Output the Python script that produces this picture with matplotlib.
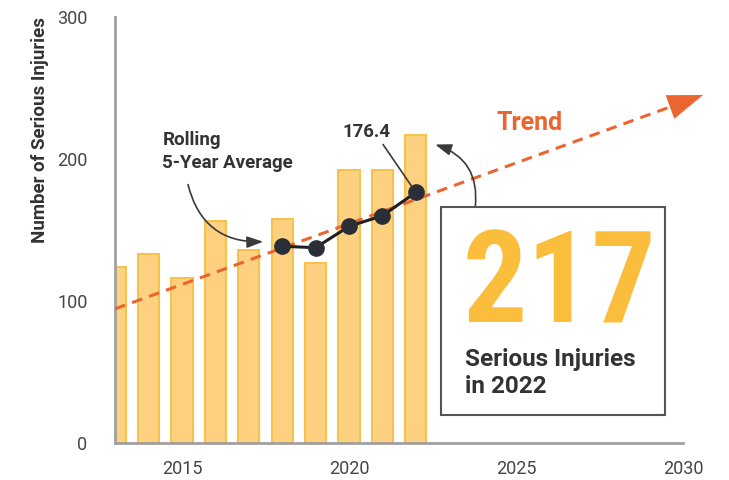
import matplotlib
matplotlib.use("Agg")
import matplotlib.pyplot as plt
from matplotlib.patches import Rectangle

plt.rcParams['font.family'] = ['Roboto', 'DejaVu Sans']

# yearly serious injuries
years = [2013, 2014, 2015, 2016, 2017, 2018, 2019, 2020, 2021, 2022]
injuries = [124, 133, 116, 156, 136, 158, 127, 192, 192, 217]

# rolling 5-year average
avg_years = [2018, 2019, 2020, 2021, 2022]
avg_values = [138.5, 137.5, 152.5, 160, 176.4]

# trend line end points
trend_x = [2013, 2030.6]
trend_y = [94.5, 245]

x_ticks = [2015, 2020, 2025, 2030]
y_ticks = [0, 100, 200, 300]

bar_fill = '#FDD180'
bar_edge = '#F6C24E'
trend_col = '#EA6530'
dark = '#333333'

fig = plt.figure(figsize=(7.29, 4.8), dpi=100)
ax = fig.add_axes([0.158, 0.077, 0.779, 0.888])

ax.bar(years, injuries, width=0.63, color=bar_fill, edgecolor=bar_edge, linewidth=1.5, zorder=2)

# dashed trend, arrow head drawn separately so it stays solid
head_start = trend_x[1] - 1.0
slope = (trend_y[1] - trend_y[0]) / (trend_x[1] - trend_x[0])
ax.plot([trend_x[0], head_start], [trend_y[0], trend_y[0] + slope * (head_start - trend_x[0])],
        color=trend_col, lw=2.2, dashes=(3.5, 2.4), zorder=3, clip_on=False)
ax.annotate('', xy=(trend_x[1], trend_y[1]),
            xytext=(head_start, trend_y[0] + slope * (head_start - trend_x[0])),
            arrowprops=dict(arrowstyle='-|>,head_length=1.4,head_width=0.5', color=trend_col,
                            lw=0.1, mutation_scale=18, shrinkA=0, shrinkB=0),
            annotation_clip=False, zorder=3)

ax.plot(avg_years, avg_values, color='#1f1f1f', lw=2.2, marker='o', markersize=11,
        markerfacecolor='#2A2E38', markeredgecolor='#2A2E38', zorder=5)

ax.set_xlim(2013, 2030)
ax.set_ylim(0, 300)
ax.set_xticks(x_ticks)
ax.set_yticks(y_ticks)
ax.tick_params(length=0, labelsize=13, labelcolor='#454545')
ax.tick_params(axis='y', pad=20)
ax.tick_params(axis='x', pad=12)
for s in ['top', 'right']:
    ax.spines[s].set_visible(False)
for s in ['left', 'bottom']:
    ax.spines[s].set_color('#A0A0A0')
    ax.spines[s].set_linewidth(2)

fig.text(40 / 729, 1 - 17 / 480, 'Number of Serious Injuries', rotation=90, ha='center', va='top',
         fontsize=13.5, fontweight='bold', color=dark)

# rolling average callout
ax.text(2014.41, 219.5, 'Rolling\n5-Year Average', ha='left', va='top', fontsize=13.5,
        fontweight='bold', color=dark, linespacing=1.35)
ax.annotate('', xy=(2017.43, 141.7), xytext=(2015.18, 181.9),
            arrowprops=dict(arrowstyle='-|>,head_length=0.7,head_width=0.25', color='#3a3a3a',
                            lw=1.2, mutation_scale=14, shrinkA=0, shrinkB=0,
                            connectionstyle='arc3,rad=0.4'), zorder=4)

ax.text(2020.54, 218.6, '176.4', ha='center', va='center', fontsize=13.5, fontweight='bold', color=dark)
ax.annotate('', xy=(2022, 176.4), xytext=(2021.02, 210.1),
            arrowprops=dict(arrowstyle='-', color='#3a3a3a', lw=1.2, shrinkA=0, shrinkB=6), zorder=4)

ax.text(2025.4, 225.5, 'Trend', ha='center', va='center', fontsize=18, fontweight='bold', color=trend_col)

# highlight box
ax.add_patch(Rectangle((2022.76, 20), 6.7, 146.4, facecolor='white', edgecolor='#555555',
                       linewidth=1.5, zorder=6, clip_on=False))
ax.text(2026.3, 84.5, '217', ha='center', va='baseline', fontsize=92, fontweight='bold',
        color='#FBBD3C', zorder=7, family=['Roboto Condensed', 'DejaVu Sans'])
ax.text(2023.48, 35.5, 'Serious Injuries\nin 2022', ha='left', va='baseline', fontsize=17.5,
        fontweight='bold', color=dark, linespacing=1.2, zorder=7)
ax.annotate('', xy=(2022.58, 210.1), xytext=(2023.78, 166.4),
            arrowprops=dict(arrowstyle='-|>,head_length=0.7,head_width=0.25', color='#3a3a3a',
                            lw=1.2, mutation_scale=14, shrinkA=0, shrinkB=0,
                            connectionstyle='arc3,rad=0.4'), zorder=4)

fig.savefig('out.png', dpi=100)
